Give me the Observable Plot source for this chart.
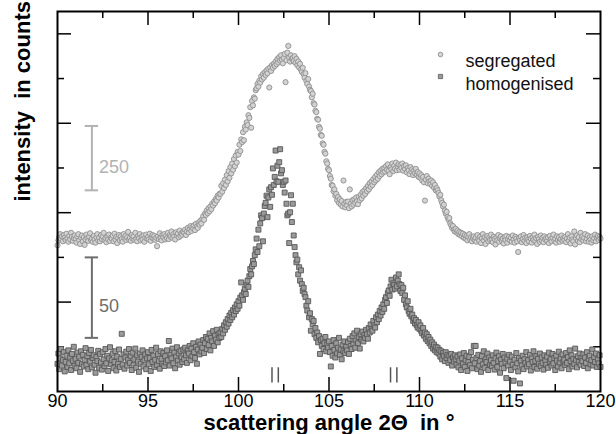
<!DOCTYPE html>
<html>
<head>
<meta charset="utf-8">
<script src="https://cdn.jsdelivr.net/npm/d3@7"></script>
<script src="https://cdn.jsdelivr.net/npm/@observablehq/plot@0.6"></script>
<style>
  html, body { margin: 0; padding: 0; background: #fff; }
  svg text { white-space: pre; }
</style>
</head>
<body>
<div id="chart"></div>
<script>
// scattering angle grid (degrees)
const angleStart = 90;
const angleStep = 0.05;

// intensities, in the plot's (offset, arbitrary) vertical units
const segregated = [
3.27,3.38,3.45,3.52,3.41,3.47,3.36,3.50,3.44,3.39,3.53,3.42,3.35,3.48,3.40,3.55,3.46,3.37,3.43,3.49,
3.41,3.33,3.47,3.52,3.38,3.30,3.44,3.49,3.36,3.45,3.28,3.40,3.51,3.43,3.37,3.46,3.54,3.39,3.42,3.35,
3.48,3.40,3.33,3.45,3.52,3.38,3.44,3.36,3.50,3.41,3.47,3.55,3.39,3.43,3.34,3.46,3.40,3.51,3.37,3.44,
3.42,3.49,3.36,3.53,3.40,3.46,3.32,3.44,3.50,3.38,3.47,3.41,3.35,3.52,3.43,3.48,3.39,3.45,3.57,3.40,
3.44,3.37,3.50,3.42,3.47,3.39,3.55,3.41,3.36,3.48,3.43,3.52,3.38,3.46,3.40,3.49,3.35,3.44,3.51,3.42,
3.46,3.40,3.53,3.37,3.45,3.50,3.42,3.48,3.39,3.44,3.25,3.47,3.41,3.54,3.43,3.38,3.50,3.45,3.52,3.40,
3.48,3.43,3.55,3.41,3.50,3.46,3.58,3.44,3.52,3.47,3.40,3.56,3.49,3.53,3.45,3.60,3.48,3.54,3.51,3.57,
3.55,3.62,3.50,3.58,3.66,3.56,3.63,3.70,3.59,3.68,3.64,3.72,3.61,3.75,3.69,3.66,3.78,3.73,3.82,3.76,
3.86,3.92,3.84,3.98,3.95,4.05,3.99,4.10,4.03,4.14,4.08,4.20,4.16,4.25,4.21,4.31,4.27,4.38,4.34,4.42,
4.42,4.60,4.47,4.66,4.55,4.74,4.62,4.84,4.70,4.93,4.78,5.02,4.88,5.10,4.96,5.20,5.04,5.28,5.12,5.36,
5.30,5.52,5.38,5.64,5.58,5.80,5.62,5.92,5.86,6.02,5.96,6.18,6.12,6.36,5.90,6.50,6.40,6.58,6.55,6.74,
6.78,6.88,6.82,6.95,6.91,7.05,6.98,7.10,7.02,7.14,7.08,7.18,7.12,7.22,6.80,7.25,7.17,7.30,7.24,7.33,
7.28,7.38,7.32,7.44,7.36,7.48,7.40,7.52,7.42,7.34,7.46,7.55,6.92,7.41,7.58,7.73,7.47,7.38,7.52,7.44,
7.46,7.39,7.50,7.35,7.44,7.30,7.38,7.25,7.33,7.20,7.15,7.24,7.10,7.02,7.12,6.95,6.88,6.99,6.82,6.75,
6.72,6.58,6.66,6.45,6.42,6.28,6.25,6.10,6.08,5.92,5.88,5.74,5.72,5.55,5.52,5.36,5.32,5.15,5.10,4.98,
4.95,4.82,4.76,4.62,4.60,4.48,4.52,4.38,4.42,4.28,4.35,4.22,4.30,4.18,4.26,4.14,4.72,4.20,4.12,4.24,
4.16,4.25,4.10,4.52,4.20,4.14,4.28,4.18,4.30,4.22,4.34,4.26,4.19,4.36,4.28,4.40,4.32,4.46,4.38,4.50,
4.42,4.55,4.48,4.60,4.52,4.66,4.58,4.70,4.62,4.75,4.68,4.80,4.72,4.85,4.76,4.90,4.82,4.94,4.86,4.98,
4.90,5.00,4.92,5.04,4.96,5.08,4.94,4.86,5.02,4.97,5.10,4.93,5.05,4.98,5.12,4.95,5.03,5.08,4.96,5.06,
5.00,5.10,4.94,5.04,4.98,5.06,4.90,5.00,4.95,4.86,5.02,4.92,4.97,4.84,4.94,4.88,4.98,4.85,4.91,4.80,
4.88,4.78,4.84,4.72,4.80,4.68,4.27,4.74,4.82,4.66,4.76,4.70,4.64,4.72,4.60,4.68,4.56,4.62,4.50,4.55,
4.50,4.44,4.36,4.40,4.28,4.22,4.14,4.18,4.05,3.98,4.02,3.90,3.84,3.88,3.76,3.72,3.66,3.70,3.62,3.58,
3.64,3.56,3.60,3.52,3.57,3.50,3.55,3.47,3.53,3.44,3.50,3.42,3.48,3.38,3.46,3.52,3.40,3.45,3.36,3.43,
3.47,3.39,3.44,3.35,3.50,3.41,3.37,3.46,3.32,3.43,3.52,3.38,3.45,3.30,3.42,3.48,3.36,3.44,3.39,3.51,
3.40,3.34,3.46,3.41,3.29,3.44,3.38,3.50,3.35,3.43,3.47,3.37,3.42,3.31,3.45,3.39,3.48,3.33,3.41,3.46,
3.38,3.44,3.35,3.49,3.40,3.33,3.46,3.42,3.36,3.12,3.43,3.39,3.47,3.34,3.41,3.50,3.37,3.44,3.32,3.45,
3.40,3.36,3.48,3.42,3.33,3.45,3.39,3.51,3.37,3.43,3.30,3.46,3.41,3.35,3.49,3.38,3.44,3.34,3.47,3.40,
3.43,3.37,3.45,3.32,3.48,3.40,3.36,3.44,3.51,3.38,3.42,3.33,3.47,3.39,3.45,3.35,3.41,3.49,3.37,3.43,
3.39,3.46,3.34,3.42,3.52,3.38,3.44,3.31,3.47,3.40,3.36,3.58,3.29,3.43,3.49,3.37,3.45,3.34,3.55,3.41,
3.47,3.38,3.44,3.52,3.36,3.42,3.49,3.35,3.45,3.40,3.33,3.47,3.38,3.43,3.51,3.36,3.44,3.48,3.39,3.46,
3.42
];

const homogenised = [
0.62,0.85,0.50,0.74,0.95,0.58,0.70,0.88,0.45,0.66,0.80,0.55,0.92,0.63,0.76,0.48,0.84,0.69,1.00,0.57,
0.73,0.52,0.87,0.64,0.78,0.44,0.90,0.61,0.82,0.56,0.71,0.97,0.59,0.79,0.50,0.86,0.67,0.93,0.54,0.75,
0.81,0.60,0.42,0.77,0.68,0.91,0.53,0.84,0.65,0.49,0.88,0.72,0.57,0.95,0.63,0.80,0.46,0.74,0.99,0.61,
0.70,0.85,0.52,0.66,0.90,0.47,0.78,0.62,0.94,0.55,0.73,1.29,0.60,0.83,0.51,0.76,0.89,0.58,0.71,0.95,
0.64,0.79,0.48,0.87,0.59,0.72,0.96,0.53,0.81,0.67,0.44,0.85,0.62,0.77,0.92,0.56,0.70,0.83,0.50,0.74,
0.88,0.61,0.75,0.46,0.93,0.66,0.80,0.55,0.71,0.98,0.59,0.84,0.68,0.51,0.90,0.73,0.62,0.86,0.57,0.79,
0.65,0.92,0.70,1.13,0.58,0.82,0.74,0.96,0.63,0.87,0.52,0.78,0.99,0.69,0.85,0.60,0.91,0.76,0.66,0.94,
0.72,0.98,0.81,0.64,0.92,0.85,1.02,0.70,0.96,0.79,1.08,0.88,0.75,1.00,0.62,0.94,1.12,0.83,1.05,0.90,
0.98,1.15,0.86,1.08,1.22,0.95,1.18,1.04,1.30,0.92,1.20,1.12,1.35,1.02,1.25,1.16,1.38,1.10,1.28,1.20,
1.32,1.22,1.40,1.30,1.48,1.38,1.55,1.45,1.62,1.52,1.70,1.60,1.76,1.66,1.82,1.72,1.88,1.80,1.95,1.85,
2.02,1.92,2.10,2.44,2.15,2.05,2.22,2.30,2.18,2.38,2.48,2.34,2.58,2.74,2.62,2.80,2.92,2.85,3.05,3.18,
3.42,3.12,3.62,3.25,3.76,3.94,3.88,3.36,3.98,4.15,4.22,4.38,3.90,4.34,4.52,4.13,4.57,4.40,4.99,4.62,
4.80,5.39,4.70,5.05,4.69,5.13,5.42,4.88,4.95,4.62,4.69,4.45,4.72,4.20,3.94,3.98,3.32,4.01,4.39,3.79,
4.20,3.49,3.23,3.05,2.89,2.95,2.62,2.78,2.48,2.71,2.40,2.25,2.32,2.18,2.11,1.92,1.81,2.02,1.66,1.75,
1.36,1.62,1.50,1.58,1.28,1.42,1.20,1.32,1.10,1.24,0.84,1.15,1.02,1.18,0.95,1.08,1.22,0.90,1.05,0.98,
1.12,0.88,0.56,1.02,0.80,1.15,0.93,0.76,1.08,0.85,0.98,1.20,0.82,0.94,0.72,1.05,0.90,1.12,0.86,1.00,
0.92,1.10,0.84,1.18,1.02,0.95,1.24,1.06,1.30,0.98,1.14,1.36,1.08,1.22,0.96,1.28,1.16,1.34,1.12,1.26,
1.20,1.38,1.28,1.18,1.42,1.32,1.50,1.40,1.36,1.58,1.48,1.43,1.66,1.55,1.72,1.62,1.80,1.70,1.88,1.78,
1.95,1.85,2.05,2.11,1.98,2.20,2.26,2.14,2.35,2.50,2.28,2.42,2.38,2.30,2.55,2.35,2.48,2.62,2.40,2.25,
2.38,2.20,2.32,2.05,2.15,1.95,1.88,2.02,1.80,1.74,1.85,1.68,1.72,1.58,1.64,1.52,1.60,1.48,1.43,1.55,
1.40,1.48,1.35,1.30,1.42,1.25,1.32,1.18,1.28,1.13,1.22,1.08,1.16,1.02,1.10,0.96,1.05,0.92,1.00,0.88,
0.98,0.85,0.93,0.78,0.90,0.72,0.86,0.80,0.68,0.88,0.75,0.82,0.64,0.79,0.70,0.84,0.58,0.76,0.67,0.81,
0.72,0.60,0.78,0.54,0.69,0.83,0.48,0.74,0.62,0.86,0.55,0.70,0.80,0.46,0.66,0.77,0.59,0.88,0.52,0.71,
1.02,0.63,1.02,0.75,0.50,0.82,0.58,0.68,0.44,0.79,0.61,0.90,0.53,0.72,0.66,0.85,0.48,0.76,0.60,0.70,
0.57,0.81,0.64,0.49,0.74,0.87,0.55,0.68,0.79,0.42,0.71,0.62,0.84,0.52,0.76,0.65,0.30,0.73,0.58,0.82,
0.67,0.48,0.78,0.60,0.24,0.71,0.54,0.86,0.63,0.45,0.75,0.18,0.69,0.58,0.80,0.50,0.72,0.64,0.88,0.56,
0.70,0.61,0.82,0.47,0.74,0.66,0.90,0.55,0.68,0.79,0.51,0.73,0.62,0.85,0.57,0.76,0.64,0.49,0.81,0.69,
0.60,0.78,0.53,0.87,0.66,0.72,0.58,0.84,0.63,0.75,0.48,0.80,0.69,0.56,0.89,0.65,0.74,0.52,0.83,0.67,
0.71,0.59,0.86,0.64,0.77,0.50,0.92,0.68,0.81,0.56,0.73,0.62,0.96,0.70,0.54,0.79,0.66,0.85,0.60,0.75,
0.68,0.83,0.57,0.76,0.64,0.88,0.52,0.73,0.80,0.61,0.70,0.94,0.58,0.77,0.66,0.85,0.55,0.72,0.63,0.81,
0.55
];

// axis ticks
const xLabels = [90, 95, 100, 105, 110, 115, 120];
const xMajorTicks = [95, 100, 105, 110, 115];
const xMinorTicks = [92.5, 97.5, 102.5, 107.5, 112.5, 117.5];
const yMajorTicks = [2, 4, 6, 8];
const yMinorTicks = [1, 3, 5, 7];

// intensity scale bars (label in counts)
const scaleBarLabels = ["250", "50"];
const scaleBarX = [91.9, 91.9];
const scaleBarLow = [4.50, 1.20];
const scaleBarHigh = [5.94, 3.00];
const scaleBarColors = ["#b2b2b2", "#6e6e6e"];

// reflection position markers
const reflectionX = [101.85, 102.2, 108.4, 108.75];
const reflectionLow = 0.19;
const reflectionHigh = 0.53;

// legend
const seriesNames = ["segregated", "homogenised"];

const toPoints = (vals) => vals.map((v, i) => ({x: angleStart + i * angleStep, y: v}));
const segPts = toPoints(segregated);
const homPts = toPoints(homogenised);

const bars = scaleBarLabels.map((l, i) => ({
  label: l, x: scaleBarX[i], lo: scaleBarLow[i], hi: scaleBarHigh[i],
  mid: (scaleBarLow[i] + scaleBarHigh[i]) / 2, color: scaleBarColors[i]
}));
const caps = bars.flatMap(b => [{x: b.x, y: b.lo, color: b.color}, {x: b.x, y: b.hi, color: b.color}]);

const W = 616, H = 434;
const mL = 57, mR = 16, mT = 11, mB = 43;
const innerW = W - mL - mR, innerH = H - mT - mB;
const longT = 14, shortT = 7;
const capHalf = 0.37;

const FONT = "'Liberation Sans', Arial, Helvetica, sans-serif";

const chart = Plot.plot({
  width: W, height: H,
  marginLeft: mL, marginRight: mR, marginTop: mT, marginBottom: mB,
  style: {fontFamily: FONT, fontSize: "18px", color: "#000", background: "#fff"},
  x: {domain: [90, 120], axis: null},
  y: {domain: [0, 8.5], axis: null},
  marks: [
    // ticks bottom/top
    Plot.ruleX(xMajorTicks, {x: d => d, insetTop: innerH - longT, stroke: "#000", strokeWidth: 1.5}),
    Plot.ruleX(xMinorTicks, {x: d => d, insetTop: innerH - shortT, stroke: "#000", strokeWidth: 1.5}),
    Plot.ruleX(xMajorTicks, {x: d => d, insetBottom: innerH - longT, stroke: "#000", strokeWidth: 1.5}),
    Plot.ruleX(xMinorTicks, {x: d => d, insetBottom: innerH - shortT, stroke: "#000", strokeWidth: 1.5}),
    // ticks left/right
    Plot.ruleY(yMajorTicks, {y: d => d, insetRight: innerW - longT, stroke: "#000", strokeWidth: 1.5}),
    Plot.ruleY(yMinorTicks, {y: d => d, insetRight: innerW - shortT, stroke: "#000", strokeWidth: 1.5}),
    Plot.ruleY(yMajorTicks, {y: d => d, insetLeft: innerW - longT, stroke: "#000", strokeWidth: 1.5}),
    Plot.ruleY(yMinorTicks, {y: d => d, insetLeft: innerW - shortT, stroke: "#000", strokeWidth: 1.5}),
    // x tick labels
    Plot.axisX(xLabels, {anchor: "bottom", tickSize: 0, tickPadding: 3, fontSize: 18, tickFormat: d => String(d), label: null}),
    // scale bars
    Plot.ruleX(bars, {x: "x", y1: "lo", y2: "hi", stroke: "color", strokeWidth: 2}),
    Plot.ruleY(caps, {y: "y", x1: d => d.x - capHalf, x2: d => d.x + capHalf, stroke: "color", strokeWidth: 2}),
    Plot.text(bars, {x: "x", y: "mid", text: "label", fill: "color", dx: 7, dy: 9, textAnchor: "start", fontSize: 18}),
    // reflection markers
    Plot.ruleX(reflectionX, {x: d => d, y1: reflectionLow, y2: reflectionHigh, stroke: "#555", strokeWidth: 1.5}),
    // data
    Plot.dot(segPts, {x: "x", y: "y", r: 2.6, fill: "#d3d3d3", stroke: "#8e8e8e", strokeWidth: 0.9}),
    Plot.dot(homPts, {x: "x", y: "y", r: 2.8, symbol: "square", fill: "#9a9a9a", stroke: "#575757", strokeWidth: 0.9}),
    // legend
    Plot.dot([seriesNames[0]], {frameAnchor: "top-right", dx: -160, dy: 43, r: 2.3, fill: "#d3d3d3", stroke: "#8e8e8e", strokeWidth: 0.9}),
    Plot.dot([seriesNames[1]], {frameAnchor: "top-right", dx: -160, dy: 65, r: 2.4, symbol: "square", fill: "#9a9a9a", stroke: "#666", strokeWidth: 0.9}),
    Plot.text([seriesNames[0]], {frameAnchor: "top-right", dx: -135, dy: 43, text: d => d, textAnchor: "start", fontSize: 18, fill: "#111"}),
    Plot.text([seriesNames[1]], {frameAnchor: "top-right", dx: -135, dy: 66, text: d => d, textAnchor: "start", fontSize: 18, fill: "#111"}),
    // axis titles
    Plot.text(["scattering angle 2\u0398  in \u00B0"], {frameAnchor: "bottom", dy: 38, lineAnchor: "bottom", text: d => d, fontWeight: "bold", fontSize: 22, fill: "#000"}),
    Plot.text(["intensity  in counts"], {frameAnchor: "left", dx: -35, rotate: -90, text: d => d, fontWeight: "bold", fontSize: 22, fill: "#000"}),
    // frame
    Plot.frame({stroke: "#000", strokeWidth: 2})
  ]
});
document.getElementById("chart").appendChild(chart);
</script>
</body>
</html>
